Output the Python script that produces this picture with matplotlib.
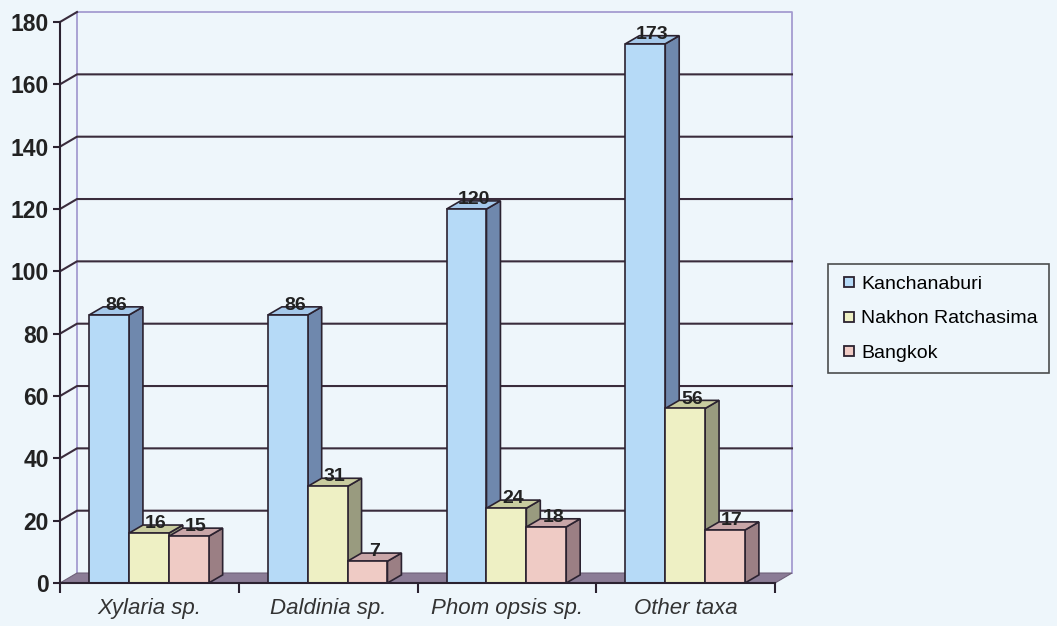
import numpy as np
import matplotlib.pyplot as plt
from matplotlib.patches import Polygon
from matplotlib.lines import Line2D

plt.rcParams['font.family'] = ['Liberation Sans', 'DejaVu Sans']

categories = ["Xylaria sp.", "Daldinia sp.", "Phom opsis sp.", "Other taxa"]
series = ["Kanchanaburi", "Nakhon Ratchasima", "Bangkok"]
kanchanaburi = [86, 86, 120, 173]
nakhon = [16, 31, 24, 56]
bangkok = [15, 7, 18, 17]
yticks = list(range(0, 181, 20))

values = [kanchanaburi, nakhon, bangkok]
front_cols = ["#b6daf7", "#eef0c4", "#efcbc5"]
side_cols = ["#6f88ad", "#999b7f", "#9b7f84"]
top_cols = ["#a5c8ea", "#c9cc9f", "#c9a6a8"]
edge = "#2b2230"
bg = "#eef6fb"

fig = plt.figure(figsize=(10.57, 6.26), dpi=100, facecolor=bg)
ax = fig.add_axes([60 / 1057, 43 / 626, 715 / 1057, 561 / 626])
ax.set_facecolor("none")
ax.set_xlim(0, 4)
ax.set_ylim(0, 180)

# depth offsets (data units)
wdx, wdy = 0.095, 3.2     # walls
bdx, bdy = 0.078, 2.6     # bars

# back wall + gridlines
wall_col = "#a49cd0"
ax.plot([wdx, wdx, 4 + wdx, 4 + wdx], [wdy, 180 + wdy, 180 + wdy, wdy],
        color=wall_col, lw=1.3, clip_on=False, zorder=1)
for v in yticks[1:-1]:
    ax.plot([0, wdx, 4 + wdx], [v, v + wdy, v + wdy], color="#3a2c3c",
            lw=1.5, clip_on=False, zorder=1)
ax.plot([0, wdx], [180, 180 + wdy], color="#3a2c3c", lw=1.5, clip_on=False, zorder=1)

# floor
ax.add_patch(Polygon([(0, 0), (4, 0), (4 + wdx, wdy), (wdx, wdy)],
                     closed=True, facecolor="#8b7c96", edgecolor="#6e6078",
                     lw=0.8, clip_on=False, zorder=2))

w = 0.223
x = np.arange(len(categories))
z = 3
for i in range(len(categories)):
    for j in range(3):
        v = values[j][i]
        left = x[i] + 0.163 + j * w
        ax.bar(left, v, width=w, align="edge", color=front_cols[j],
               edgecolor=edge, lw=1.2, zorder=z + 2, clip_on=False)
        r = left + w
        ax.add_patch(Polygon([(r, 0), (r + bdx, bdy), (r + bdx, v + bdy), (r, v)],
                             closed=True, facecolor=side_cols[j], edgecolor=edge,
                             lw=1.2, zorder=z, clip_on=False))
        ax.add_patch(Polygon([(left, v), (r, v), (r + bdx, v + bdy), (left + bdx, v + bdy)],
                             closed=True, facecolor=top_cols[j], edgecolor=edge,
                             lw=1.2, zorder=z + 1, clip_on=False))
        ax.text(left + w / 2 + bdx / 2, v + 0.3, str(v), ha="center", va="bottom",
                fontsize=14, fontweight="bold", color="#222222", zorder=50)
        z += 3

for s in ["top", "right"]:
    ax.spines[s].set_visible(False)
for s in ["left", "bottom"]:
    ax.spines[s].set_color("#2b2230")
    ax.spines[s].set_linewidth(1.5)
    ax.spines[s].set_zorder(60)

ax.set_yticks(yticks)
ax.set_yticklabels([str(t) for t in yticks], fontsize=16.5, fontweight="bold", color="#222222")
ax.tick_params(axis="y", length=5, width=1.5, color="#2b2230", pad=3)

ax.set_xticks(np.arange(5))
ax.set_xticklabels([])
ax.tick_params(axis="x", which="major", length=7, width=1.5, color="#2b2230")
ax.set_xticks(x + 0.5, minor=True)
ax.set_xticklabels(categories, minor=True, fontsize=16, fontstyle="italic", color="#333333")
ax.tick_params(axis="x", which="minor", length=0, pad=11)

handles = [Line2D([], [], marker="s", linestyle="none", markersize=7.5,
                  markerfacecolor=c, markeredgecolor=edge, markeredgewidth=1.3)
           for c in front_cols]
leg = fig.legend(handles, series, loc="upper left", bbox_to_anchor=(828 / 1057, 1 - 264 / 626),
                 borderaxespad=0, frameon=True, fancybox=False, fontsize=14,
                 handletextpad=0.1, handlelength=1.0, labelspacing=0.85, borderpad=0.6,
                 facecolor=bg, edgecolor="#222222")
leg.get_frame().set_linewidth(1.2)

fig.savefig("out.png", dpi=100, facecolor=bg)
